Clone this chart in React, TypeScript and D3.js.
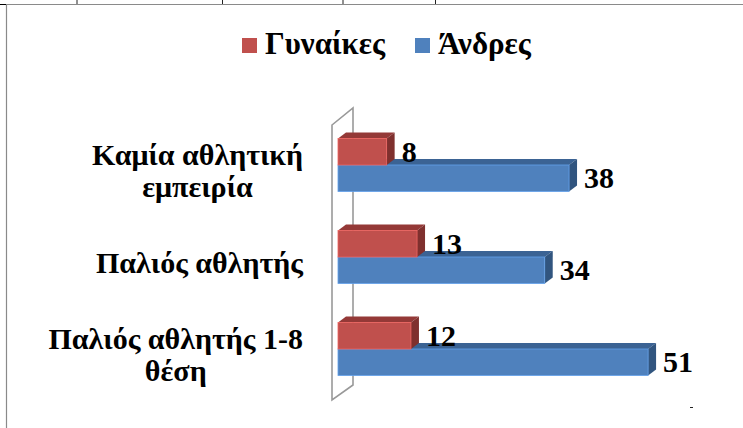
import * as React from "react";
import * as d3 from "d3";

const categories = ["Καμία αθλητική εμπειρία", "Παλιός αθλητής", "Παλιός αθλητής 1-8 θέση"];
const categoryLines = [["Καμία αθλητική", "εμπειρία"], ["Παλιός αθλητής"], ["Παλιός αθλητής 1-8", "θέση"]];
const series = ["Γυναίκες", "Άνδρες"];
const women = [8, 13, 12];
const men = [38, 34, 51];

const colors = {
  "Γυναίκες": { front: "#C0504D", top: "#943937", side: "#7F302E" },
  "Άνδρες": { front: "#4F81BD", top: "#3B6394", side: "#31557F" },
};

const FONT = "'Liberation Serif', 'Times New Roman', serif";

function drawChart(svgRef) {
  const width = 743;
  const height = 428;
  const depth = { dx: 8, dy: 6 };

  const svg = d3.select(svgRef.current).attr("width", width).attr("height", height);
  svg.selectAll("*").remove();

  const x = d3.scaleLinear().domain([0, 60]).range([338, 338 + 364.8]);
  const y = d3.scaleBand().domain(categories).range([119, 395]);
  const yInner = d3.scaleBand().domain(series).range([0, 53]);

  // frame bits from the page the chart was cut from
  svg.append("line").attr("x1", 7).attr("x2", width).attr("y1", 4.5).attr("y2", 4.5)
    .attr("stroke", "#8a8a8a").attr("stroke-width", 1.2);
  svg.append("line").attr("x1", 6.5).attr("x2", 6.5).attr("y1", 4).attr("y2", height)
    .attr("stroke", "#8a8a8a").attr("stroke-width", 1.2);
  svg.append("line").attr("x1", 0).attr("x2", 6).attr("y1", 4.5).attr("y2", 4.5)
    .attr("stroke", "#000").attr("stroke-width", 1);
  [77, 222.5, 343, 435.5].forEach((tx) => {
    svg.append("line").attr("x1", tx).attr("x2", tx).attr("y1", 0).attr("y2", 4)
      .attr("stroke", "#222").attr("stroke-width", 1);
  });
  svg.append("line").attr("x1", 690).attr("x2", 693).attr("y1", 407.5).attr("y2", 407.5)
    .attr("stroke", "#222").attr("stroke-width", 1);

  // legend
  const legend = svg.append("g").attr("font-family", FONT).attr("font-weight", "bold").attr("font-size", 31);
  const legendX = [242, 415];
  series.forEach((s, i) => {
    legend.append("rect").attr("x", legendX[i]).attr("y", 38).attr("width", 15).attr("height", 15)
      .attr("fill", colors[s].front);
    legend.append("text").attr("x", legendX[i] + 23).attr("y", 54).text(s).attr("fill", "#000");
  });

  // 3D wall (floor of the horizontal bars)
  const [r0, r1] = y.range();
  const x0 = x(0);
  const wall = [
    [x0 - 6, r0 + 6],
    [x0 + 15, r0 - 11],
    [x0 + 15, r1 - 10],
    [x0 - 6, r1 + 5],
  ];
  svg.append("path")
    .attr("d", d3.line()(wall) + "Z")
    .attr("fill", "none")
    .attr("stroke", "#999")
    .attr("stroke-width", 1.6);

  const rows = [];
  categories.forEach((c, i) => {
    const vals = { "Γυναίκες": women[i], "Άνδρες": men[i] };
    const groupTop = y(c) + y.bandwidth() / 2 - yInner.range()[1] / 2;
    series.forEach((s) => {
      rows.push({ c, s, v: vals[s], y0: groupTop + yInner(s), h: yInner.bandwidth() });
    });
  });

  // draw men first so the women bars (above) overlap their top faces
  const order = [...rows].sort((a, b) => b.y0 - a.y0);
  const bars = svg.append("g");
  order.forEach((d) => {
    const xa = x(0);
    const xb = x(d.v);
    const ya = d.y0;
    const yb = d.y0 + d.h;
    const col = colors[d.s];
    const g = bars.append("g");
    g.append("path")
      .attr("d", `M${xa},${ya}L${xa + depth.dx},${ya - depth.dy}L${xb + depth.dx},${ya - depth.dy}L${xb},${ya}Z`)
      .attr("fill", col.top);
    g.append("path")
      .attr("d", `M${xb},${ya}L${xb + depth.dx},${ya - depth.dy}L${xb + depth.dx},${yb - depth.dy}L${xb},${yb}Z`)
      .attr("fill", col.side);
    g.append("rect").attr("x", xa).attr("y", ya).attr("width", xb - xa).attr("height", d.h)
      .attr("fill", col.front)
      .attr("stroke", d3.color(col.front).brighter(0.6))
      .attr("stroke-width", 0.8);
  });

  // value labels
  svg.append("g")
    .selectAll("text")
    .data(rows)
    .join("text")
    .attr("x", (d) => x(d.v) + depth.dx + 7)
    .attr("y", (d) => d.y0 + d.h / 2 + 10)
    .attr("font-family", FONT)
    .attr("font-weight", "bold")
    .attr("font-size", 30)
    .attr("fill", "#000")
    .text((d) => d.v);

  // category labels: block right-aligned, lines centred within it
  const labelRight = 303;
  const lineGap = 32;
  categories.forEach((c, i) => {
    const lines = categoryLines[i];
    const center = y(c) + y.bandwidth() / 2;
    const g = svg.append("g").attr("font-family", FONT).attr("font-weight", "bold").attr("font-size", 30);
    const texts = lines.map((ln, j) =>
      g.append("text")
        .attr("y", center + 16 + (j - (lines.length - 1) / 2) * lineGap)
        .attr("text-anchor", "middle")
        .attr("fill", "#000")
        .text(ln)
    );
    const maxW = d3.max(texts, (t) => t.node().getComputedTextLength());
    texts.forEach((t) => t.attr("x", labelRight - maxW / 2));
  });
}

const App = () => {
  const svgRef = React.useRef(null);

  React.useEffect(() => {
    drawChart(svgRef);
  }, [svgRef]);

  return (
    <div id="chart">
      <svg ref={svgRef} style={{ position: "absolute", left: 0, top: 0, background: "#fff" }} />
    </div>
  );
};

export default App;
